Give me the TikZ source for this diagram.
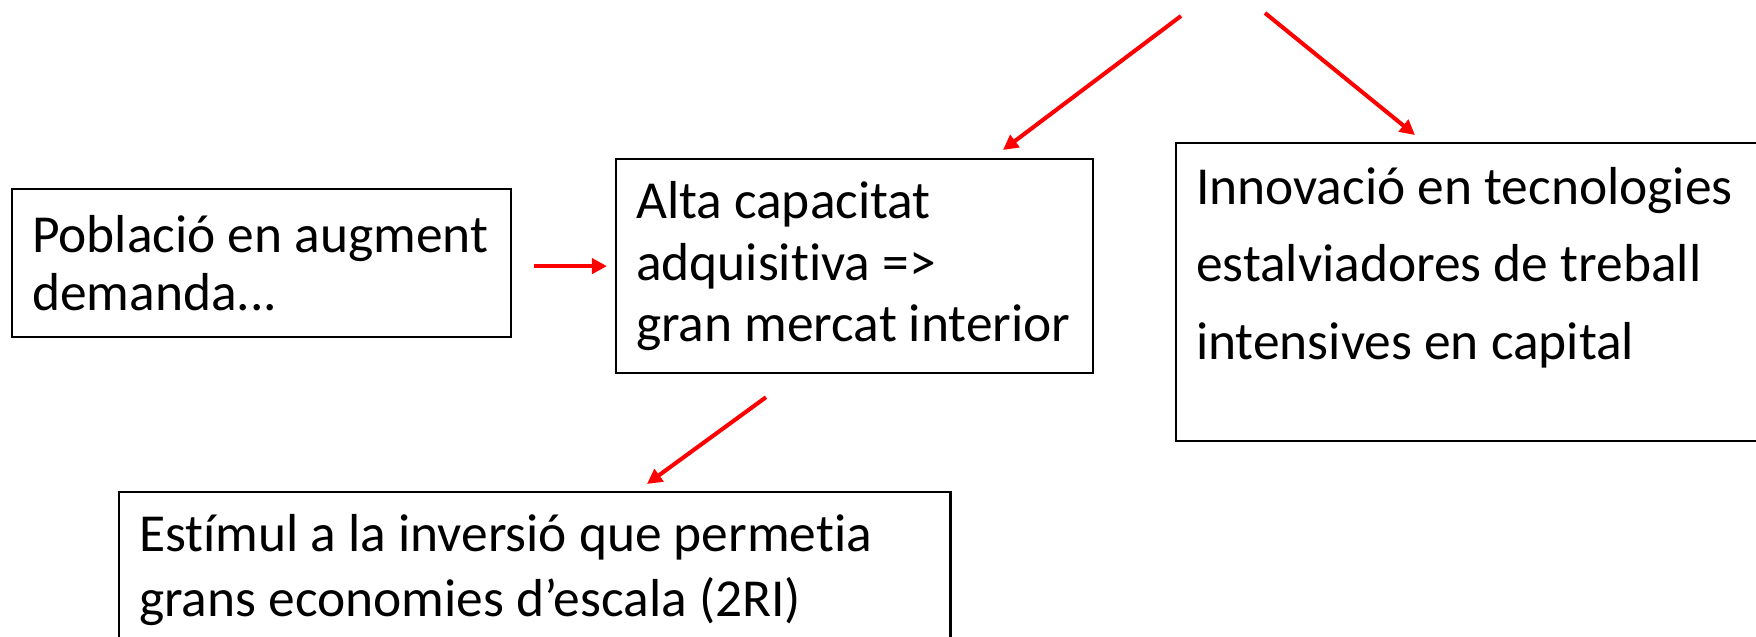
\documentclass[tikz,border=0pt]{standalone}
\usepackage{fontspec}
\setmainfont{Carlito}[Ligatures=NoCommon]
\usepackage{tikz}
\usetikzlibrary{arrows.meta, positioning, calc}
\tikzstyle{textbox} = [rectangle, draw=black, line width=0.6pt, inner xsep=2mm, inner ysep=0pt, align=flush left, anchor=north west]
\tikzstyle{arrow} = [red, line width=1.15pt, -{Triangle[length=1.5mm, width=1.5mm]}]

\begin{document}
\begin{tikzpicture}[x=0.01cm, y=0.01cm]
    \useasboundingbox (0,0) rectangle (1756,-637);
    \node (pob) [textbox, minimum width=49.9mm, minimum height=14.8mm, text width=45.9mm, font=\fontsize{15.2}{16.3}\selectfont] at (11,-188) {Població en augment\\demanda...};
    \node (alta) [textbox, minimum width=47.7mm, minimum height=21.4mm, text width=43.7mm, font=\fontsize{15.2}{17.6}\selectfont] at (615,-158) {Alta capacitat\\adquisitiva =>\\gran mercat interior};
    \node (innov) [textbox, minimum width=60mm, minimum height=29.8mm, text width=56mm, font=\fontsize{15.2}{22}\selectfont] at (1175,-142) {Innovació en tecnologies\\estalviadores de treball\\intensives en capital\\[-5.5pt]\mbox{}};
    \node (estim) [textbox, minimum width=83.1mm, minimum height=15.5mm, text width=79.1mm, font=\fontsize{15.2}{18.5}\selectfont] at (118,-491) {Estímul a la inversió que permetia\\grans economies d’escala (2RI)};

    % free ends at the top
    \coordinate (srcL) at (1181,-16);
    \coordinate (srcR) at (1265,-13);

    \draw [arrow] (srcL) -- ($(alta.north west)+(388,8)$);
    \draw [arrow] (srcR) -- ($(innov.north west)+(240,7)$);
    \draw [arrow] ($(pob.east |- alta.west)+(22,0)$) -- ($(alta.west)+(-8,0)$);
    \draw [arrow] ($(alta.south west)+(151,-23)$) -- ($(estim.north west)+(529,7)$);
\end{tikzpicture}
\end{document}
